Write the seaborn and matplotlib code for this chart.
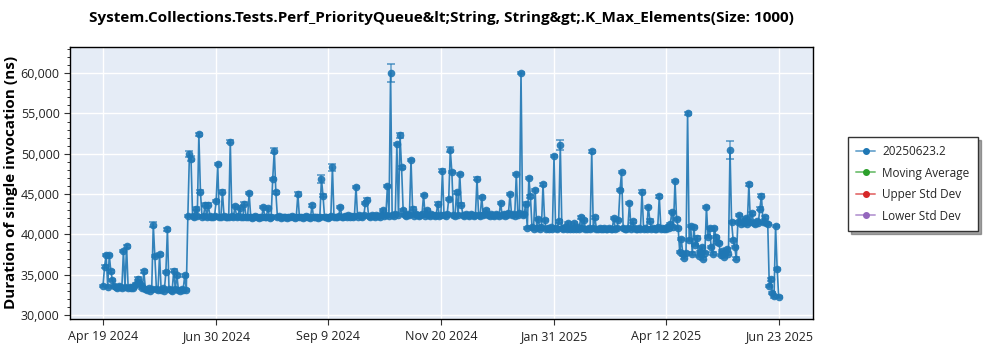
import numpy as np
import pandas as pd
import matplotlib
matplotlib.use("Agg")
import matplotlib.pyplot as plt
import matplotlib.dates as mdates
from matplotlib.lines import Line2D
from matplotlib.ticker import FixedLocator, MultipleLocator, FuncFormatter
import seaborn as sns

# ---------------- data ----------------
start_date = "2024-04-19"

seg1 = [33600, 36000, 37400, 33500, 37400, 35400, 34300, 33600, 33500, 33400,
        33600, 33500, 33400, 37900, 33500, 38500, 33400, 33500, 33300, 33400,
        33600, 33800, 34500, 33900, 33700, 33400, 35400, 33200, 33100, 33300,
        33000, 33200, 41200, 37300, 33200, 33100, 37500, 33100, 33300, 33000,
        35300, 40600, 33200, 33100, 33000, 35500, 33200, 34900, 33100, 33000,
        33200, 33100, 34900, 33100]
seg2 = [42300, 50000, 49400, 42300, 42200, 43200, 42300, 52400, 45300, 42200,
        42300, 43700, 42200, 43700, 42300, 42100, 42200, 42300, 44100, 48700,
        42200, 42100, 45300, 42300, 42200, 42100, 42200, 51500, 42300, 42100,
        43500, 42200, 42300, 43300, 42100, 42200, 43800, 42200, 42100, 45100,
        42200, 42000, 42100, 42300, 42100, 42000, 42200, 42100, 43400, 42100,
        42200, 43300, 42000, 42200, 46900, 50400, 45200, 42100, 42300, 42000,
        42100, 42200, 42100, 42000, 42200, 42100, 42300, 42100, 42000, 42200,
        45000, 42100, 42200, 42000, 42100, 42300, 42100, 42200, 42000, 43600,
        42100, 42200, 42100, 42000, 42200, 46900, 44800, 42100, 42200, 42000,
        42100, 42300, 48300, 42100, 42200, 42100, 42300, 43400, 42200, 42100,
        42300, 42200, 42400, 42200, 42300, 42100, 42300, 45900, 42200, 42400,
        42300, 42200, 42400, 43900, 44300, 42300, 42200, 42400, 42300, 42200,
        42400, 42300, 42200, 42400, 43000, 42300, 42400, 46000, 42300, 60000,
        42400, 42300, 42500, 51200, 42400, 52300, 48300, 43000, 42400, 42300,
        42500, 42400, 49200, 43200, 42300, 42500, 42400, 42300, 42400, 42500,
        44900, 42300, 43000, 42400, 42300, 42500, 42400, 42300, 42400, 43800,
        42300, 42400, 47900, 42400, 42300, 42500, 44400, 50500, 47700, 42400,
        42300, 45200, 42400, 47500, 43700, 42400, 42300, 42500, 42400, 42300,
        42500, 42400, 42300, 42400, 46900, 42400, 42300, 44600, 42400, 42500,
        43000, 42400, 42300, 42500, 42400, 42300, 42500, 42400, 42300, 43900,
        42400, 42500, 42300, 42400, 42600, 45000, 42400, 42500, 42300, 47500,
        42400, 42600, 60000, 42400, 42500, 43800]
seg3 = [40800, 47000, 44700, 40900, 40700, 45500, 40800, 41900, 40700, 40900,
        46200, 41800, 40700, 40800, 40600, 40900, 40700, 49700, 40800, 40600,
        41600, 51100, 40800, 40700, 40900, 40600, 41400, 40700, 40800, 40600,
        41400, 40700, 40900, 40700, 42100, 40800, 41800, 40700, 40600, 40800,
        40700, 50300, 40800, 42100, 40700, 40600, 40800, 40700, 40600, 40800,
        40700, 40600, 40800, 40700, 40600, 42000, 40700, 40800, 41800, 45500,
        47700, 40800, 40700, 40600, 40800, 43900, 40700, 41600, 40800, 40600,
        40700, 40800, 40600, 45300, 40700, 40800, 40600, 43400, 41700, 40700,
        40800, 40600, 40700, 40900, 44700, 40700, 40800, 40600, 40700, 40900,
        40800, 41300, 42800, 40900, 46600, 41900, 40800]
seg4 = [37800, 39400, 37500, 37100, 37700, 55000, 39300, 41000, 37600, 40900,
        38700, 39600, 37300, 37800, 38400, 37000, 37700, 43400, 39700, 40800,
        38400, 37600, 40800, 39700, 39000, 38900, 37400, 37900, 37200, 37700,
        38200, 37600, 50500, 41500, 39300, 38400, 37000]
seg5 = [41500, 42400, 41300, 41600, 41400, 42000, 41300, 46200, 41500, 42600,
        41400, 41300, 41600, 41400, 43200, 44800, 41500, 42100, 41400, 41300]
seg6 = [33600, 34400, 32700, 32300, 41000, 35700, 32200]

values = seg1 + seg2 + seg3 + seg4 + seg5 + seg6
default_err = 150
err_overrides = {32: 300, 55: 350, 56: 300, 93: 150, 109: 300, 124: 200,
                 139: 500, 146: 400, 168: 200, 183: 1100, 189: 300, 221: 300,
                 238: 200, 291: 600, 399: 1100, 419: 200}

tick_dates = ["2024-04-19", "2024-06-30", "2024-09-09", "2024-11-20",
              "2025-01-31", "2025-04-12", "2025-06-23"]
tick_labels = ["Apr 19 2024", "Jun 30 2024", "Sep 9 2024", "Nov 20 2024",
               "Jan 31 2025", "Apr 12 2025", "Jun 23 2025"]

legend_labels = ["20250623.2", "Moving Average", "Upper Std Dev", "Lower Std Dev"]
legend_colors = ["#1f77b4", "#2ca02c", "#d62728", "#9467bd"]

title = "System.Collections.Tests.Perf_PriorityQueue&lt;String, String&gt;.K_Max_Elements(Size: 1000)"
ylabel = "Duration of single invocation (ns)"

# ---------------- build frame ----------------
dates = pd.date_range(start_date, periods=len(values), freq="D")
errs = [err_overrides.get(i, default_err) for i in range(len(values))]
df = pd.DataFrame({"date": dates, "value": values, "err": errs})

# ---------------- plot ----------------
sns.set_theme(style="darkgrid")
plt.rcParams["font.family"] = ["Open Sans", "DejaVu Sans"]

fig = plt.figure(figsize=(10, 3.5), dpi=100)
ax = fig.add_axes([0.070, 0.088, 0.7433, 0.779])
ax.set_facecolor("#e5ecf6")

blue = "#1f77b4"
ax.errorbar(df["date"], df["value"], yerr=df["err"], fmt="none",
            ecolor=blue, alpha=0.6, elinewidth=1.2, capsize=3, capthick=1.4, zorder=2)
sns.lineplot(data=df, x="date", y="value", ax=ax, color=blue, linewidth=1.2,
             alpha=0.9, marker="o", markersize=5.5, markeredgewidth=0,
             zorder=3, legend=False)

ax.set_xlim(pd.Timestamp("2024-03-29"), pd.Timestamp("2025-07-15"))
ax.set_ylim(29470, 63300)

ax.xaxis.set_major_locator(FixedLocator([mdates.date2num(pd.Timestamp(d)) for d in tick_dates]))
ax.set_xticklabels(tick_labels)
ax.yaxis.set_major_locator(MultipleLocator(5000))
ax.yaxis.set_minor_locator(MultipleLocator(1000))
ax.yaxis.set_major_formatter(FuncFormatter(lambda v, p: f"{int(v):,}"))

ax.grid(True, which="major", color="white", linewidth=1.0)
ax.grid(False, which="minor")
ax.tick_params(axis="both", which="major", direction="out", length=4, width=0.8,
               color="#333333", labelsize=9, labelcolor="#222222", bottom=True, left=True)
ax.tick_params(axis="y", which="minor", direction="out", length=2.5, width=0.7,
               color="#333333", left=True)
for s in ax.spines.values():
    s.set_visible(True)
    s.set_color("black")
    s.set_linewidth(1.0)

ax.set_xlabel("")
ax.set_ylabel(ylabel, fontsize=11, fontweight="bold", color="black", labelpad=2)
fig.text(0.4416, 0.948, title, ha="center", va="center", fontsize=11,
         fontweight="bold", color="black")

handles = []
for c in legend_colors:
    rgba = matplotlib.colors.to_rgba(c, 0.6)
    handles.append(Line2D([0], [0], color=rgba, linewidth=1.4, marker="o",
                          markersize=4, markerfacecolor=c, markeredgecolor=c))
leg = fig.legend(handles, legend_labels, loc="upper left",
                 bbox_to_anchor=(0.848, 0.609), borderaxespad=0, frameon=True,
                 fancybox=False, shadow=True, fontsize=8.5, handlelength=1.6,
                 handletextpad=0.6, borderpad=0.7, labelspacing=0.72,
                 edgecolor="#333333")
leg.get_frame().set_facecolor("white")
leg.get_frame().set_linewidth(1.0)

fig.savefig("out.png", dpi=100, facecolor="white")
